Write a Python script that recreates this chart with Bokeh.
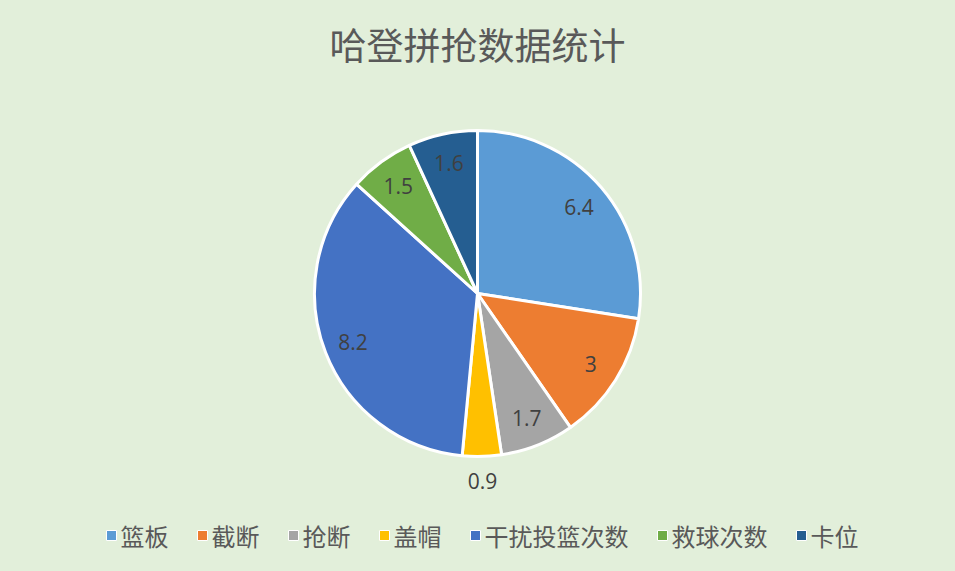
import numpy as np
from bokeh.plotting import figure
from bokeh.models import Range1d
from bokeh.core.properties import value
from bokeh.embed import file_html
from bokeh.resources import INLINE

title = "哈登拼抢数据统计"
categories = ["篮板", "截断", "抢断", "盖帽", "干扰投篮次数", "救球次数", "卡位"]
values = [6.4, 3, 1.7, 0.9, 8.2, 1.5, 1.6]
labels = ["6.4", "3", "1.7", "0.9", "8.2", "1.5", "1.6"]
colors = ["#5B9BD5", "#ED7D31", "#A5A5A5", "#FFC000", "#4472C4", "#70AD47", "#255E91"]

bg = "#E2EFDA"
cjk = "Noto Sans CJK SC"

# data units == screen pixels (y measured from the bottom of the window)
W, H = 955, 571
p = figure(width=W, height=H, output_backend="svg", toolbar_location=None,
           x_range=Range1d(0, W), y_range=Range1d(0, H),
           background_fill_color=bg, border_fill_color=bg, min_border=0)
p.axis.visible = False
p.grid.visible = False
p.outline_line_color = None

cx, cy, r = 477, H - 293, 163

vals = np.array(values, dtype=float)
frac = vals / vals.sum()
ends = np.cumsum(frac) * 2 * np.pi
starts = ends - frac * 2 * np.pi
# clockwise from 12 o'clock
p.wedge(x=cx, y=cy, radius=r,
        start_angle=list(np.pi / 2 - ends), end_angle=list(np.pi / 2 - starts),
        direction="anticlock", fill_color=colors, line_color="white", line_width=3)

mids = (starts + ends) / 2
lx, ly = [], []
for m, f in zip(mids, frac):
    rr = r * 0.82 if f > 0.05 else r + 25
    lx.append(cx + rr * np.sin(m))
    ly.append(cy + rr * np.cos(m))
p.text(x=lx, y=ly, text=labels, text_align="center", text_baseline="middle",
       text_font=value("Open Sans"), text_font_size="21px", text_color="#404040")

# title
p.text(x=[477], y=[H - 43], text=[title], text_align="center", text_baseline="middle",
       text_font=value(cjk), text_font_size="37px", text_color="#595959")

# legend along the bottom
fs, cw, gap = 24, 24, 29
widths = [14 + len(c) * cw for c in categories]
total = sum(widths) + gap * (len(widths) - 1)
x0 = 482 - total / 2
sx, tx = [], []
for w in widths:
    sx.append(x0 + 5)
    tx.append(x0 + 14)
    x0 += w + gap
ly0 = H - 535
p.rect(x=sx, y=[ly0] * len(sx), width=10, height=10, fill_color=colors,
       line_color="white", line_width=1)
p.text(x=tx, y=[ly0] * len(tx), text=categories, text_align="left", text_baseline="middle",
       text_font=value(cjk), text_font_size=f"{fs}px", text_color="#595959")

html = file_html(p, INLINE)
html = html.replace("</head>", f"<style>html, body {{ background: {bg}; }}</style></head>", 1)
open("out.html", "w").write(html)
